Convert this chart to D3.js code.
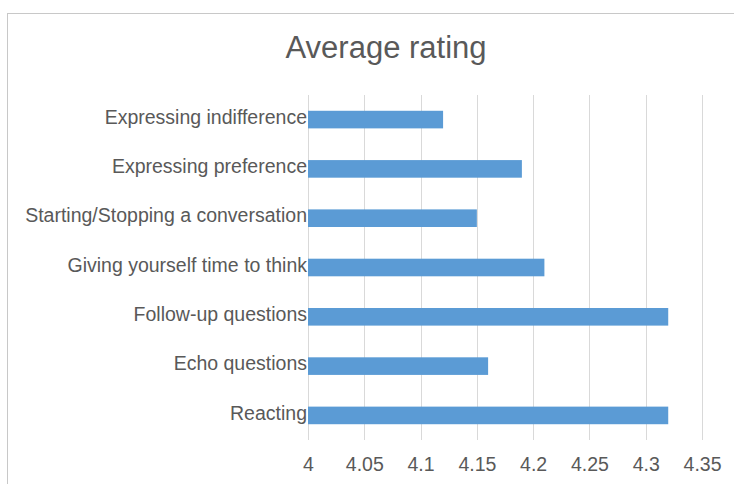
<!DOCTYPE html>
<html>
<head>
<meta charset="utf-8">
<script src="https://cdn.jsdelivr.net/npm/d3@7"></script>
<style>
  html, body { margin: 0; padding: 0; background: #fff; }
  svg { display: block; }
</style>
</head>
<body>
<svg id="chart" width="734" height="484"></svg>
<script>
// Categories (top to bottom) and their average ratings
const categories = [
  "Expressing indifference",
  "Expressing preference",
  "Starting/Stopping a conversation",
  "Giving yourself time to think",
  "Follow-up questions",
  "Echo questions",
  "Reacting"
];
const ratings = [4.12, 4.19, 4.15, 4.21, 4.32, 4.16, 4.32];
const xTicks = [4, 4.05, 4.1, 4.15, 4.2, 4.25, 4.3, 4.35];
const xTickLabels = ["4", "4.05", "4.1", "4.15", "4.2", "4.25", "4.3", "4.35"];
const title = "Average rating";

const font = "'Liberation Sans', Arial, Helvetica, sans-serif";
const textColor = "#595959";
const gridColor = "#d9d9d9";
const barColor = "#5b9bd5";

const svg = d3.select("#chart");

// chart frame
svg.append("rect")
  .attr("x", 7.5).attr("y", 13.5)
  .attr("width", 740).attr("height", 500)
  .attr("fill", "#fff")
  .attr("stroke", "#c8c8c8")
  .attr("stroke-width", 1);

const plot = { left: 308, right: 702, top: 95, bottom: 440 };

const x = d3.scaleLinear().domain([4, 4.35]).range([plot.left, plot.right]);
const y = d3.scaleBand().domain(categories).range([plot.top, plot.bottom])
  .paddingInner(0.643).paddingOuter(0.32);

// title
svg.append("text")
  .attr("x", 386).attr("y", 58.3)
  .attr("text-anchor", "middle")
  .attr("font-family", font)
  .attr("font-size", 31)
  .attr("fill", textColor)
  .text(title);

// vertical gridlines
svg.append("g")
  .selectAll("line")
  .data(xTicks)
  .join("line")
  .attr("x1", d => Math.round(x(d)) + 0.5)
  .attr("x2", d => Math.round(x(d)) + 0.5)
  .attr("y1", plot.top)
  .attr("y2", plot.bottom)
  .attr("stroke", gridColor)
  .attr("stroke-width", 1);

// x axis tick labels
const xAxis = d3.axisBottom(x)
  .tickValues(xTicks)
  .tickFormat((d, i) => xTickLabels[i])
  .tickSize(0)
  .tickPadding(0);
const gx = svg.append("g")
  .attr("transform", `translate(0, 470.5)`)
  .call(xAxis);
gx.select(".domain").remove();
gx.selectAll("text")
  .attr("font-family", font)
  .attr("font-size", 19.5)
  .attr("fill", textColor)
  .attr("dy", 0);

// bars
svg.append("g")
  .selectAll("rect")
  .data(categories)
  .join("rect")
  .attr("x", x(4))
  .attr("y", d => y(d))
  .attr("width", (d, i) => x(ratings[i]) - x(4))
  .attr("height", y.bandwidth())
  .attr("fill", barColor);

// category labels
const yAxis = d3.axisLeft(y).tickSize(0).tickPadding(0);
const gy = svg.append("g")
  .attr("transform", `translate(${plot.left - 1}, 0)`)
  .call(yAxis);
gy.select(".domain").remove();
gy.selectAll("text")
  .attr("font-family", font)
  .attr("font-size", 19.5)
  .attr("fill", textColor)
  .attr("dy", "0.22em");
</script>
</body>
</html>
